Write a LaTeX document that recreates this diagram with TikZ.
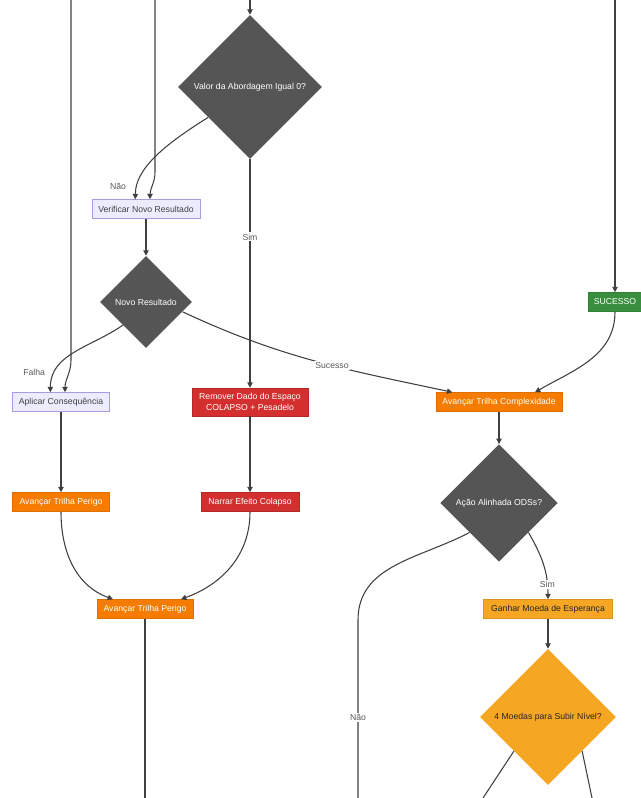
\documentclass[tikz,border=0pt]{standalone}
\usepackage{fontspec}
\setmainfont{Liberation Sans}
\usetikzlibrary{shapes.geometric,arrows.meta}
\definecolor{decgray}{HTML}{555555}
\definecolor{checkfill}{HTML}{ECECFF}
\definecolor{checkline}{HTML}{A99BE0}
\definecolor{dangerred}{HTML}{D32F2F}
\definecolor{trailorange}{HTML}{F57C00}
\definecolor{hopeamber}{HTML}{F5A623}
\definecolor{okgreen}{HTML}{388E3C}
\definecolor{edgegray}{HTML}{404040}
\begin{document}
\begin{tikzpicture}[x=0.75pt, y=0.75pt,
  font=\fontsize{6.5}{7.8}\selectfont,
  decision/.style={diamond, aspect=1, fill=decgray, text=white, inner sep=0pt, minimum size=#1},
  hopedecision/.style={decision=#1, fill=hopeamber, text=black!85},
  box/.style={rectangle, align=center, inner xsep=3pt, inner ysep=2pt, minimum height=14.25pt, minimum width=#1},
  checkbox/.style={box=#1, fill=checkfill, draw=checkline, text=black!75},
  dangerbox/.style={box=#1, fill=dangerred, draw=dangerred!85!black, text=white},
  trailbox/.style={box=#1, fill=trailorange, draw=trailorange!90!black, text=white},
  hopebox/.style={box=#1, fill=hopeamber, draw=hopeamber!90!black, text=black!85},
  okbox/.style={box=#1, fill=okgreen, draw=okgreen!90!black, text=white},
  lbl/.style={fill=white, text=black!65, inner sep=1pt},
  link/.style={draw=edgegray, line width=0.8pt},
  arrow/.style={link, -{Triangle[length=4pt, width=4pt]}}
]
\useasboundingbox (0,0) rectangle (641,-798);

% ends coming in from above and leaving below
\coordinate (inA) at (71,0);
\coordinate (inB) at (155,0);
\coordinate (inC) at (250,0);
\coordinate (inD) at (615,0);
\coordinate (outA) at (145,-798);
\coordinate (outB) at (358,-798);
\coordinate (outC) at (483,-798);
\coordinate (outD) at (592,-798);

\node[decision=108pt] (valor) at (250,-87) {Valor da Abordagem Igual 0?};
\node[checkbox=81pt] (verificar) at (146,-209) {Verificar Novo Resultado};
\node[decision=69pt] (novo) at (146,-302) {Novo Resultado};
\node[okbox=40pt] (sucesso) at (615,-302) {SUCESSO};
\node[checkbox=73pt] (aplicar) at (61,-402) {Aplicar Consequência};
\node[dangerbox=87pt, minimum height=21pt] (remover) at (250,-402) {Remover Dado do Espaço\\COLAPSO + Pesadelo};
\node[trailbox=94.5pt] (cmplx) at (499,-402) {Avançar Trilha Complexidade};
\node[trailbox=73pt] (perigoA) at (61,-502) {Avançar Trilha Perigo};
\node[dangerbox=73.5pt] (narrar) at (250,-502) {Narrar Efeito Colapso};
\node[decision=88pt] (acao) at (499,-503) {Ação Alinhada ODSs?};
\node[trailbox=72pt] (perigoC) at (145,-609) {Avançar Trilha Perigo};
\node[hopebox=97pt] (ganhar) at (548,-609) {Ganhar Moeda de Esperança};
\node[hopedecision=102pt] (moedas) at (548,-717) {4 Moedas para Subir Nível?};

% left half
\draw[arrow] (inC) -- (valor);
\draw[arrow] (inA) -- (inA |- 0,-360) to[out=-90, in=90] ([xshift=3pt]aplicar.north);
\draw[arrow] (inB) -- (inB |- 0,-172) to[out=-90, in=90] ([xshift=3pt]verificar.north);
\draw[arrow] (valor.216) .. controls +(-45,-28) and +(0,30) .. node[lbl, pos=0.85, left=7pt] {Não} ([xshift=-8pt]verificar.north);
\draw[arrow] (valor) -- node[lbl, pos=0.34] {Sim} (remover);
\draw[arrow] (verificar) -- (novo);
\draw[arrow] (novo.south west) to[out=215, in=90] node[lbl, pos=0.8, left=6pt] {Falha} ([xshift=-8pt]aplicar.north);
\draw[arrow] (novo.-15) to[out=-25, in=168] node[lbl, pos=0.57] {Sucesso} ([xshift=-35pt]cmplx.north);
\draw[arrow] (aplicar) -- (perigoA);
\draw[arrow] (remover) -- (narrar);
\draw[arrow] (perigoA.south) to[out=-90, in=160] ([xshift=-24pt]perigoC.north);
\draw[arrow] (narrar.south) to[out=-90, in=20] ([xshift=27pt]perigoC.north);
\draw[link] (perigoC) -- (outA);

% right half
\draw[arrow] (inD) -- (sucesso);
\draw[arrow] (sucesso.south) to[out=-90, in=30] ([xshift=27pt]cmplx.north);
\draw[arrow] (cmplx) -- (acao);
\draw[arrow] (acao.south east) to[out=-60, in=90] node[lbl, pos=0.8] {Sim} (ganhar.north);
\draw[arrow] (ganhar) -- (moedas);
\draw[link] (acao.south west) to[out=208, in=90] (outB |- 0,-620) -- node[lbl, pos=0.55] {Não} (outB);
\draw[link] (moedas.south west) -- (outC);
\draw[link] (moedas.south east) -- (outD);
\end{tikzpicture}
\end{document}
